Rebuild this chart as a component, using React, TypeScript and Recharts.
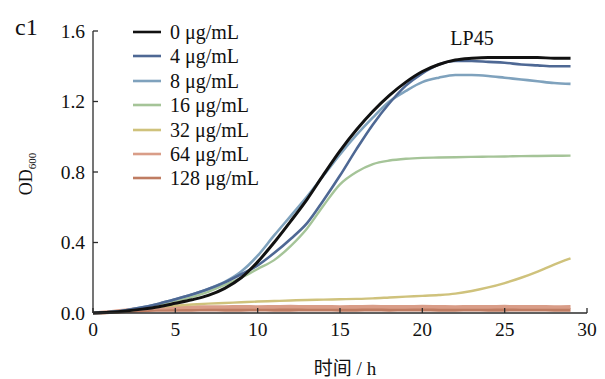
import { LineChart, Line, XAxis, YAxis, Legend } from "recharts";

const SERIF = '"Liberation Serif", "Times New Roman", Times, "DejaVu Serif", serif';
const CJK = '"Liberation Serif", "Noto Sans CJK SC", serif';

// time points (h)
const hours = [
    0, 1, 2, 3, 4, 5, 6, 7, 8, 9, 10, 11, 12, 13, 14, 15, 16, 17, 18, 19, 20,
    21, 22, 23, 24, 25, 26, 27, 28, 29,
];

// OD600 readings per concentration
const od0 = [
    0, 0.004, 0.011, 0.022, 0.036, 0.055, 0.075, 0.1, 0.14, 0.2, 0.29, 0.4,
    0.52, 0.645, 0.785, 0.92, 1.04, 1.145, 1.235, 1.31, 1.37, 1.41, 1.435, 1.445,
    1.45, 1.45, 1.45, 1.45, 1.445, 1.445,
];
const od4 = [
    0, 0.005, 0.016, 0.032, 0.053, 0.078, 0.105, 0.136, 0.174, 0.22, 0.27, 0.34,
    0.42, 0.51, 0.64, 0.78, 0.93, 1.07, 1.19, 1.29, 1.36, 1.41, 1.43, 1.43,
    1.425, 1.42, 1.41, 1.405, 1.4, 1.4,
];
const od8 = [
    0, 0.005, 0.016, 0.032, 0.053, 0.078, 0.105, 0.136, 0.176, 0.235, 0.325, 0.44,
    0.55, 0.66, 0.78, 0.9, 1.01, 1.11, 1.2, 1.26, 1.31, 1.335, 1.35, 1.35,
    1.345, 1.335, 1.325, 1.315, 1.305, 1.3,
];
const od16 = [
    0, 0.004, 0.012, 0.025, 0.042, 0.065, 0.09, 0.12, 0.16, 0.2, 0.25, 0.3,
    0.38, 0.48, 0.61, 0.73, 0.8, 0.845, 0.865, 0.875, 0.88, 0.882, 0.884,
    0.886, 0.887, 0.888, 0.89, 0.891, 0.892, 0.893,
];
const od32 = [
    0, 0.003, 0.01, 0.025, 0.035, 0.042, 0.048, 0.053, 0.057, 0.061, 0.065,
    0.068, 0.071, 0.074, 0.076, 0.078, 0.08, 0.083, 0.088, 0.093, 0.097, 0.102,
    0.11, 0.125, 0.145, 0.17, 0.2, 0.235, 0.275, 0.31,
];
const od64 = [
    0, 0.006, 0.016, 0.025, 0.03, 0.032, 0.033, 0.034, 0.034, 0.035, 0.034,
    0.035, 0.036, 0.035, 0.035, 0.034, 0.035, 0.036, 0.035, 0.035, 0.036, 0.035,
    0.034, 0.035, 0.035, 0.036, 0.035, 0.035, 0.034, 0.035,
];
const od128 = [
    0, 0.004, 0.01, 0.015, 0.017, 0.018, 0.018, 0.019, 0.018, 0.018, 0.019,
    0.018, 0.018, 0.019, 0.019, 0.018, 0.018, 0.019, 0.018, 0.019, 0.019, 0.018,
    0.018, 0.019, 0.018, 0.018, 0.019, 0.019, 0.018, 0.018,
];

const xTicks = [0, 5, 10, 15, 20, 25, 30];
const yTicks = [0, 0.4, 0.8, 1.2, 1.6];

const series = [
    { key: "c0", name: "0 μg/mL", color: "#111111", width: 3, values: od0 },
    { key: "c4", name: "4 μg/mL", color: "#4e6894", width: 2.6, values: od4 },
    { key: "c8", name: "8 μg/mL", color: "#7fa2bd", width: 2.6, values: od8 },
    { key: "c16", name: "16 μg/mL", color: "#a5c498", width: 2.4, values: od16 },
    { key: "c32", name: "32 μg/mL", color: "#cfc27c", width: 2.4, values: od32 },
    { key: "c64", name: "64 μg/mL", color: "#d99d88", width: 3.6, values: od64 },
    { key: "c128", name: "128 μg/mL", color: "#bf7c62", width: 3.6, values: od128 },
];

const data = hours.map((h, i) => {
    const row: Record<string, number> = { h };
    series.forEach((s) => {
        row[s.key] = s.values[i];
    });
    return row;
});

// legend drawn in the fixed order 0 -> 128
const renderLegend = () => (
    <div style={{ position: "relative", width: 170, height: 175 }}>
        {series.map((s, i) => (
            <div
                key={s.key}
                style={{
                    position: "absolute",
                    left: 0,
                    top: i * 24.4,
                    height: 24,
                    display: "flex",
                    alignItems: "center",
                    whiteSpace: "nowrap",
                }}
            >
                <svg width={28} height={6}>
                    <line x1={0} y1={3} x2={28} y2={3} stroke={s.color} strokeWidth={2.6} />
                </svg>
                <span
                    style={{
                        marginLeft: 9,
                        fontSize: 20,
                        fontFamily: SERIF,
                        color: "#111",
                        lineHeight: "24px",
                    }}
                >
                    {s.name}
                </span>
            </div>
        ))}
    </div>
);

const tickStyle = { fontSize: 19.5, fill: "#111", fontFamily: SERIF };

export default function App() {
    // draw lowest concentrations last so the black curve sits on top
    const drawOrder = [...series].reverse();

    return (
        <div style={{ position: "absolute", left: 0, top: 0, background: "#fff" }}>
            <LineChart
                width={605}
                height={379}
                data={data}
                margin={{ top: 31, right: 18, left: 0, bottom: 0 }}
            >
                <XAxis
                    dataKey="h"
                    type="number"
                    domain={[0, 30]}
                    ticks={xTicks}
                    height={66}
                    tickSize={-5}
                    tickMargin={14}
                    tick={tickStyle}
                    axisLine={{ stroke: "#2b2b2b", strokeWidth: 1.3 }}
                    tickLine={{ stroke: "#2b2b2b", strokeWidth: 1.3 }}
                />
                <YAxis
                    type="number"
                    domain={[0, 1.6]}
                    ticks={yTicks}
                    width={93}
                    tickSize={-5}
                    tickMargin={13}
                    tick={tickStyle}
                    tickFormatter={(v: number) => v.toFixed(1)}
                    axisLine={{ stroke: "#2b2b2b", strokeWidth: 1.3 }}
                    tickLine={{ stroke: "#2b2b2b", strokeWidth: 1.3 }}
                />
                <Legend
                    layout="vertical"
                    align="center"
                    verticalAlign="middle"
                    content={renderLegend}
                    wrapperStyle={{ left: 133, top: 20, width: 200 }}
                />

                {drawOrder.map((s) => (
                    <Line
                        key={s.key}
                        dataKey={s.key}
                        name={s.name}
                        type="monotone"
                        stroke={s.color}
                        strokeWidth={s.width}
                        dot={false}
                        activeDot={false}
                        isAnimationActive={false}
                    />
                ))}

                <text x={15} y={35} fontSize={24} fontFamily={SERIF} fill="#111">
                    c1
                </text>
                <text x={472} y={45} fontSize={20} fontFamily={SERIF} fill="#111" textAnchor="middle">
                    LP45
                </text>
                <text
                    x={32}
                    y={174}
                    transform="rotate(-90, 32, 174)"
                    fontSize={18}
                    fontFamily={SERIF}
                    fill="#111"
                    textAnchor="middle"
                >
                    OD
                    <tspan fontSize={11} dy={4}>
                        600
                    </tspan>
                </text>
                <text x={345} y={375} fontSize={19} fontFamily={CJK} fill="#111" textAnchor="middle">
                    时间 / h
                </text>
            </LineChart>
        </div>
    );
}
